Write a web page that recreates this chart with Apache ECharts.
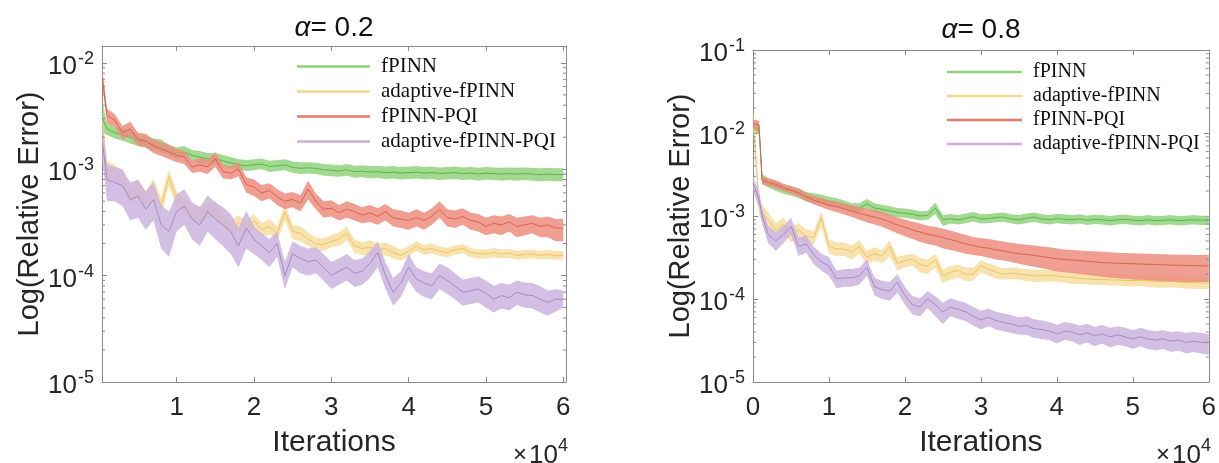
<!DOCTYPE html>
<html><head><meta charset="utf-8">
<script src="https://cdn.jsdelivr.net/npm/echarts@6/dist/echarts.min.js"></script>
<style>html,body{margin:0;padding:0;background:#fff}#c{width:1219px;height:463px}</style>
</head><body><div id="c"></div><script>
// values are in units of 1e-4 (relative error)
const UNIT = 1e-4;
const names = ['fPINN', 'adaptive-fPINN', 'fPINN-PQI', 'adaptive-fPINN-PQI'];
const xTickValsLeft = [10000, 20000, 30000, 40000, 50000, 60000];
const xTickValsRight = [0, 10000, 20000, 30000, 40000, 50000, 60000];
const minorMult = [2, 3, 4, 5, 6, 7, 8, 9];

// ---------- left panel (alpha = 0.2) ----------
const xLeft = [400,1000,2000,3000,4000,5000,6000,7000,8000,9000,
  10000,11000,12000,13000,14000,15000,16000,17000,18000,19000,
  20000,21000,22000,23000,24000,25000,26000,27000,28000,29000,
  30000,31000,32000,33000,34000,35000,36000,37000,38000,39000,
  40000,41000,42000,43000,44000,45000,46000,47000,48000,49000,
  50000,51000,52000,53000,54000,55000,56000,57000,58000,59000,
  60000];
const gL_mean = [30,24,22,21,20,18.5,18,17,16.5,15, 14,14.5,13.5,13,12.5,12.5,12,11.5,11,10.8,
  11,11.2,10.6,10.8,11,10.4,10.2,10.3,10.2,9.9, 9.8,9.6,9.9,9.5,9.6,9.4,9.5,9.3,9.4,9.2,
  9.3,9.4,9.2,9.3,9.1,9.2,9.3,9.1,9.2,9.0, 9.2,9.1,9.0,9.1,9.0,9.1,9.0,8.9,9.0,8.9, 8.9];
const gL_lo = [22,21,19.5,18.5,17.5,16.5,16,15,14.5,13.5, 12.5,13,12,11.5,11,11,10.6,10.2,9.8,9.6,
  9.8,10,9.4,9.6,9.8,9.2,9,9.1,9,8.7, 8.6,8.5,8.7,8.3,8.4,8.2,8.3,8.1,8.2,8.0,
  8.1,8.2,8.0,8.1,7.9,8.0,8.1,7.9,8.0,7.8, 8.0,7.9,7.8,7.9,7.8,7.9,7.8,7.7,7.8,7.7, 7.7];
const gL_hi = [43,27,25,24,23,21,20.5,19.5,19,17, 16,16.5,15.2,14.8,14.2,14.2,13.6,13,12.4,12.2,
  12.4,12.6,12,12.2,12.4,11.8,11.6,11.6,11.5,11.2, 11.1,10.9,11.2,10.8,10.9,10.7,10.8,10.6,10.7,10.5,
  10.6,10.7,10.5,10.6,10.4,10.5,10.6,10.4,10.5,10.3, 10.5,10.4,10.3,10.4,10.3,10.4,10.3,10.2,10.3,10.2, 10.2];
const yL_mean = [25,10,9.3,8,5.5,6.5,5.2,6.8,4.5,8.5, 5.2,4.5,4.0,3.8,4.1,4.2,3.3,2.8,3.1,2.8,
  3.3,2.7,2.9,2.5,4.0,2.6,2.5,2.2,2.0,1.95, 2.1,2.2,2.5,1.9,1.8,1.85,1.75,1.8,1.65,1.55,
  1.7,1.9,1.75,1.8,1.7,1.65,1.75,1.8,1.65,1.6, 1.6,1.65,1.6,1.62,1.55,1.58,1.6,1.55,1.58,1.55, 1.55];
const yL_lo = [18,8.5,7.8,6.8,4.6,5.4,4.4,5.6,3.8,7, 4.4,3.8,3.4,3.2,3.5,3.5,2.8,2.4,2.6,2.4,
  2.8,2.3,2.45,2.1,3.3,2.2,2.1,1.9,1.7,1.7, 1.85,1.9,2.15,1.65,1.55,1.6,1.5,1.55,1.45,1.38,
  1.52,1.7,1.57,1.62,1.53,1.49,1.58,1.62,1.49,1.45, 1.45,1.49,1.45,1.47,1.41,1.44,1.46,1.41,1.44,1.41, 1.41];
const yL_hi = [32,11.8,11,9.5,6.6,7.8,6.2,8.2,5.4,10, 6.2,5.3,4.7,4.5,4.8,5.0,3.9,3.3,3.7,3.3,
  3.8,3.1,3.4,2.9,4.7,3.0,2.9,2.55,2.3,2.25, 2.4,2.55,2.9,2.2,2.05,2.15,2.0,2.05,1.9,1.75,
  1.9,2.1,1.95,2.0,1.88,1.82,1.93,1.98,1.82,1.76, 1.76,1.82,1.76,1.78,1.7,1.74,1.76,1.7,1.74,1.7, 1.7];
const rL_mean = [72,32,29,22,24,19,18.5,16.5,15.5,14.5, 13.5,13,10.5,11,10.5,12.5,9.5,9.2,10,7.2,
  6.8,6,6.3,5.5,5,5.2,4.8,6.5,5,4.2, 4.3,3.9,4.2,4.0,3.7,3.9,3.6,4.0,3.5,3.4,
  3.3,3.5,3.3,3.6,4.2,3.5,3.4,3.6,3.3,3.2, 2.9,3.1,3.0,3.2,2.9,3.0,3.1,2.9,3.0,2.8, 2.8];
const rL_lo = [60,27,25,19,20.5,16.5,16,14.2,13.3,12.5, 11.6,11.2,9.2,9.5,9,10.5,8.2,8,8.6,6,
  5.6,5,5.3,4.6,4.2,4.4,4,5.2,4.2,3.5, 3.6,3.3,3.5,3.3,3.1,3.2,3.0,3.3,2.9,2.8,
  2.7,2.9,2.7,3.0,3.5,2.9,2.8,3.0,2.7,2.6, 2.4,2.5,2.4,2.6,2.3,2.4,2.5,2.3,2.3,2.1, 2.1];
const rL_hi = [85,37,33,25.5,28,22,21.5,19,18,17, 15.5,15,12,12.8,12.2,14.5,11,10.6,11.6,8.4,
  8,7.1,7.4,6.5,5.9,6.1,5.7,7.8,5.9,5, 5.1,4.6,5,4.7,4.4,4.6,4.3,4.7,4.2,4.1,
  3.9,4.2,3.9,4.3,5,4.2,4.1,4.3,3.9,3.8, 3.5,3.7,3.6,3.8,3.5,3.6,3.7,3.5,3.6,3.4, 3.4];
const pL_mean = [18,8,7.5,7,5.2,5.6,4.2,5.2,3,2.6, 4,4.5,3.4,3,4,3.4,3,2.6,1.9,2.8,
  2.2,1.9,1.65,2.0,1.0,1.6,1.45,1.35,1.4,1.2, 1.0,1.1,1.2,1.05,1.1,1.3,1.65,1.0,0.7,0.85,
  1.2,0.93,0.85,0.8,1.0,0.9,0.8,0.7,0.72,0.75, 0.68,0.6,0.65,0.62,0.7,0.66,0.65,0.6,0.56,0.6, 0.6];
const pL_lo = [12,5,5,4.5,3.3,3.5,2.7,3.3,1.8,1.5, 2.6,3.0,2.2,1.9,2.6,2.2,1.9,1.6,1.2,1.8,
  1.6,1.4,1.2,1.5,0.75,1.2,1.05,1.0,1.05,0.9, 0.75,0.82,0.9,0.78,0.82,0.95,1.2,0.75,0.52,0.63,
  0.9,0.7,0.63,0.6,0.75,0.67,0.6,0.52,0.54,0.56, 0.5,0.45,0.49,0.47,0.53,0.5,0.49,0.45,0.42,0.46, 0.5];
const pL_hi = [26,11,10.5,10,7.5,8,6.2,7.5,4.6,4, 5.8,6.5,4.9,4.4,5.7,4.9,4.4,3.8,2.8,4.1,
  2.9,2.5,2.2,2.6,1.35,2.1,1.9,1.8,1.85,1.6, 1.35,1.45,1.6,1.4,1.45,1.7,2.1,1.35,0.95,1.1,
  1.6,1.2,1.1,1.05,1.3,1.2,1.05,0.92,0.95,0.98, 0.9,0.8,0.85,0.82,0.9,0.86,0.85,0.8,0.72,0.75, 0.72];

// ---------- right panel (alpha = 0.8) ----------
const xRight = [0,800,1200,2000,3000,4000,5000,6000,7000,8000,
  9000,10000,11000,12000,13000,14000,15000,16000,17000,18000,
  19000,20000,21000,22000,23000,24000,25000,26000,27000,28000,
  29000,30000,31000,32000,33000,34000,35000,36000,37000,38000,
  39000,40000,41000,42000,43000,44000,45000,46000,47000,48000,
  49000,50000,51000,52000,53000,54000,55000,56000,57000,58000,
  59000,60000];
const gR_mean = [120,110,28,25,23,21,20,19,17,16.5, 16,15,14.5,13.5,12.5,12.5,14,12.5,12,11.5,
  11,10.8,10.5,10,10.2,12.5,9,9.3,9.0,9.4, 9.8,9.2,9.3,9.6,9.7,9.2,9.0,9.4,9.7,9.2,
  9.0,9.3,9.1,9.0,9.2,8.9,9.1,9.0,8.8,9.0, 9.1,8.9,8.8,9.0,8.8,8.9,9.0,8.8,8.9,9.0, 8.9,8.9];
const gR_lo = [105,95,24.5,22,20,18.5,17.5,16.5,15,14.5, 14,13.2,12.7,11.8,11,11,12.2,11,10.5,10.1,
  9.6,9.5,9.2,8.8,9,10.5,7.6,8.1,7.9,8.2, 8.6,8.1,8.2,8.4,8.5,8.1,7.9,8.2,8.5,8.1,
  7.9,8.2,8.0,7.9,8.1,7.8,8.0,7.9,7.7,7.9, 8.0,7.8,7.7,7.9,7.7,7.8,7.9,7.7,7.8,7.9, 7.8,7.8];
const gR_hi = [135,125,32,28.5,26,24,22.8,21.6,19.4,18.8, 18.2,17,16.5,15.4,14.2,14.2,16,14.2,13.7,13.1,
  12.5,12.3,12,11.4,11.6,14.5,10.3,10.6,10.3,10.7, 11.2,10.5,10.6,10.9,11,10.5,10.3,10.7,11,10.5,
  10.3,10.6,10.4,10.3,10.5,10.1,10.4,10.3,10.0,10.3, 10.4,10.1,10.0,10.3,10.0,10.1,10.3,10.0,10.1,10.3, 10.1,10.1];
const yR_mean = [160,14,11,9,6.8,8,6,6.8,5.7,5.5, 9.5,4.3,4.0,4.0,3.7,4.3,3.2,3.5,3.3,4.3,
  2.7,2.9,3.0,2.6,2.5,3.0,1.9,2.1,2.2,2.0, 2.0,2.5,2.3,2.1,2.0,2.05,2.0,1.95,1.9,1.9,
  1.92,1.9,1.85,1.8,1.78,1.75,1.72,1.72,1.7,1.7, 1.68,1.66,1.68,1.65,1.63,1.62,1.64,1.6,1.58,1.57, 1.56,1.55];
const yR_lo = [120,10,8.5,7.2,5.5,6.5,4.8,5.5,4.6,4.5, 7.5,3.5,3.3,3.3,3.0,3.5,2.6,2.9,2.7,3.3,
  2.2,2.4,2.5,2.1,2.0,2.4,1.55,1.7,1.8,1.65, 1.65,2.1,1.9,1.75,1.7,1.75,1.7,1.65,1.6,1.6,
  1.63,1.62,1.58,1.53,1.52,1.5,1.47,1.47,1.45,1.45, 1.43,1.41,1.43,1.4,1.38,1.37,1.39,1.36,1.34,1.33, 1.32,1.31];
const yR_hi = [190,18,13.5,11,8.2,9.6,7.2,8.2,6.9,6.6, 11.5,5.2,4.8,4.8,4.4,5.1,3.8,4.2,3.9,5.1,
  3.2,3.4,3.5,3.1,3.0,3.5,2.3,2.5,2.6,2.4, 2.4,2.9,2.7,2.5,2.35,2.4,2.35,2.3,2.25,2.25,
  2.25,2.22,2.17,2.12,2.09,2.05,2.02,2.02,2.0,2.0, 1.97,1.95,1.97,1.94,1.92,1.9,1.93,1.88,1.86,1.85, 1.84,1.82];
const rR_mean = [130,125,27,25.5,24,22,20.5,19,17,15.5, 14.5,13.5,13,12.2,11.5,10.8,10.2,9.7,9.2,8.5,
  7.8,7.3,6.8,6.4,6.0,5.8,5.5,5.2,4.9,4.6, 4.4,4.2,4.1,3.9,3.8,3.65,3.5,3.45,3.35,3.25,
  3.15,3.05,3.0,2.95,2.9,2.85,2.8,2.75,2.72,2.7, 2.68,2.66,2.64,2.62,2.6,2.58,2.56,2.55,2.54,2.53, 2.52,2.5];
const rR_lo = [110,105,24,23,21.5,20,18.5,17,15.2,13.8, 12.8,11.8,11.2,10.4,9.7,9.0,8.4,7.9,7.4,6.8,
  6.2,5.7,5.3,4.9,4.6,4.4,4.1,3.9,3.7,3.5, 3.4,3.3,3.15,3.0,2.9,2.8,2.65,2.55,2.45,2.35,
  2.25,2.15,2.1,2.05,2.0,1.95,1.9,1.85,1.8,1.78, 1.75,1.72,1.7,1.68,1.66,1.64,1.62,1.61,1.6,1.6, 1.6,1.6];
const rR_hi = [145,140,30,28.5,27,24.5,23,21.5,19,17.5, 16.5,15.5,15,14.2,13.5,12.8,12.2,11.7,11.2,10.4,
  9.6,9.1,8.5,8.1,7.6,7.4,7.0,6.7,6.3,5.9, 5.6,5.4,5.3,5.1,4.9,4.75,4.6,4.5,4.4,4.3,
  4.2,4.05,3.95,3.9,3.85,3.8,3.75,3.7,3.65,3.6, 3.58,3.55,3.53,3.5,3.48,3.46,3.44,3.42,3.41,3.4, 3.4,3.4];
const pR_mean = [25,16,10,6,5,6,7.5,4.3,4.6,3.4, 2.8,2.5,1.75,1.8,1.8,1.9,2.4,1.4,1.3,1.25,
  1.6,1.1,0.85,0.8,1.0,0.85,0.7,0.8,0.75,0.7, 0.62,0.56,0.6,0.55,0.52,0.5,0.47,0.48,0.44,0.43,
  0.41,0.38,0.41,0.4,0.37,0.39,0.36,0.38,0.35,0.37, 0.35,0.33,0.35,0.33,0.32,0.33,0.31,0.32,0.3,0.31, 0.3,0.3];
const pR_lo = [20,12.5,8,4.7,3.8,4.7,6,3.3,3.6,2.6, 2.2,1.9,1.35,1.4,1.4,1.5,1.9,1.1,1.0,0.95,
  1.2,0.85,0.65,0.62,0.78,0.62,0.5,0.62,0.58,0.54, 0.48,0.43,0.47,0.43,0.41,0.39,0.37,0.37,0.34,0.33,
  0.32,0.29,0.32,0.31,0.28,0.3,0.27,0.29,0.26,0.28, 0.27,0.25,0.27,0.25,0.24,0.25,0.23,0.24,0.22,0.23, 0.22,0.21];
const pR_hi = [30,20,12.5,7.6,6.4,7.6,9.5,5.5,5.8,4.3, 3.5,3.2,2.2,2.3,2.3,2.4,3.0,1.8,1.65,1.6,
  2.0,1.4,1.08,1.02,1.25,1.08,0.9,1.02,0.95,0.9, 0.8,0.72,0.77,0.7,0.67,0.64,0.6,0.62,0.57,0.55,
  0.53,0.49,0.53,0.51,0.48,0.5,0.46,0.49,0.45,0.47, 0.45,0.42,0.45,0.42,0.41,0.42,0.4,0.41,0.39,0.4, 0.39,0.38];

// ---------- styling ----------
const COLS = [
  {band: '#93d47f', line: '#5cb34b', legend: '#8fd27c'},
  {band: '#f7dd9f', line: '#ecc46a', legend: '#f4d58f'},
  {band: '#ec8d7e', line: '#d8624f', legend: '#e47b6a'},
  {band: '#cdb4df', line: '#a58ac3', legend: '#c8aedd'}
];
const AXIS_COL = '#8a8a8a';
const TXT_COL = '#262626';
const FONT = '"Liberation Sans", Arial, sans-serif';
const SERIF = '"Liberation Serif", "Times New Roman", serif';

const panels = [
  {x: xLeft, xmin: 350, xmax: 60350, ymin: 1e-5, ymax: 0.0144, ticks: xTickValsLeft,
   grid: {left: 102, top: 46, width: 464, height: 339},
   sets: [[gL_mean, gL_lo, gL_hi], [yL_mean, yL_lo, yL_hi], [rL_mean, rL_lo, rL_hi], [pL_mean, pL_lo, pL_hi]],
   title: '0.2', legendPos: {left: 297, top: 56}, legendItemWidth: 73, legendFont: 21},
  {x: xRight, xmin: 0, xmax: 60000, ymin: 1e-5, ymax: 0.1, ticks: xTickValsRight,
   grid: {left: 753, top: 50, width: 456, height: 333},
   sets: [[gR_mean, gR_lo, gR_hi], [yR_mean, yR_lo, yR_hi], [rR_mean, rR_lo, rR_hi], [pR_mean, pR_lo, pR_hi]],
   title: '0.8', legendPos: {left: 947, top: 62}, legendItemWidth: 75, legendFont: 20}
];

const yLabelFmt = v => {
  const e = Math.log10(v);
  const r = Math.round(e);
  if (Math.abs(e - r) > 1e-6) return '';
  return '{b|10}{s|' + r + '}';
};
const yRich = {
  b: {fontSize: 26, fontFamily: FONT, color: TXT_COL, lineHeight: 26, padding: [8, 0, 0, 0]},
  s: {fontSize: 18, fontFamily: FONT, color: TXT_COL, lineHeight: 24, verticalAlign: 'top', padding: [0, 0, 0, 1]}
};

// band polygon through the axis scales: upper edge forward, lower edge backward
const bandRender = (params, api) => {
  if (params.dataIndexInside !== 0) return null;
  const n = params.dataInsideLength;
  const up = [], dn = [];
  for (let i = 0; i < n; i++) {
    const x = api.value(0, i);
    up.push(api.coord([x, api.value(2, i)]));
    dn.push(api.coord([x, api.value(1, i)]));
  }
  return {type: 'polygon', shape: {points: up.concat(dn.reverse())},
    style: {fill: api.visual('color'), opacity: 0.85}, silent: true};
};

const grids = [], xAxes = [], yAxes = [], series = [], titles = [], legends = [], graphics = [];
panels.forEach((P, pi) => {
  grids.push(Object.assign({containLabel: false}, P.grid));
  const base = {gridIndex: pi, type: 'value', min: P.xmin, max: P.xmax, splitLine: {show: false},
    axisLine: {show: true, onZero: false, lineStyle: {color: AXIS_COL, width: 1}}};
  xAxes.push(Object.assign({}, base, {position: 'bottom',
    axisTick: {show: true, inside: true, length: 5, lineStyle: {color: AXIS_COL}, customValues: P.ticks},
    axisLabel: {customValues: P.ticks, formatter: v => String(v / 10000), fontSize: 26, fontFamily: FONT, color: TXT_COL, margin: 13},
    name: 'Iterations', nameLocation: 'middle', nameGap: 46,
    nameTextStyle: {fontSize: 30, fontFamily: FONT, color: TXT_COL}}));
  xAxes.push(Object.assign({}, base, {position: 'top',
    axisTick: {show: true, inside: true, length: 5, lineStyle: {color: AXIS_COL}, customValues: P.ticks},
    axisLabel: {show: false}}));
  const ybase = {gridIndex: pi, type: 'log', logBase: 10, min: P.ymin, max: P.ymax, splitLine: {show: false},
    axisLine: {show: true, onZero: false, lineStyle: {color: AXIS_COL, width: 1}},
    axisTick: {show: true, inside: true, length: 5, lineStyle: {color: AXIS_COL}}};
  yAxes.push(Object.assign({}, ybase, {position: 'left',
    axisLabel: {formatter: yLabelFmt, rich: yRich, margin: 8},
    name: 'Log(Relative Error)', nameLocation: 'middle', nameGap: 58,
    nameTextStyle: {fontSize: 29, fontFamily: FONT, color: TXT_COL}}));
  yAxes.push(Object.assign({}, ybase, {position: 'right', axisLabel: {show: false}}));

  const xi = pi * 2, yi = pi * 2;
  P.sets.forEach((S, k) => {
    const [m, lo, hi] = S;
    const col = COLS[k];
    series.push({type: 'custom', name: names[k] + ' range', xAxisIndex: xi, yAxisIndex: yi,
      data: P.x.map((x, i) => [x, lo[i] * UNIT, hi[i] * UNIT]),
      encode: {x: 0, y: [1, 2]}, itemStyle: {color: col.band}, renderItem: bandRender,
      silent: true, clip: true, z: 2 + k});
    series.push({type: 'line', name: names[k], xAxisIndex: xi, yAxisIndex: yi,
      data: P.x.map((x, i) => [x, m[i] * UNIT]), symbol: 'none',
      lineStyle: {color: col.line, width: 1}, itemStyle: {color: col.legend}, emphasis: {disabled: true}, z: 2 + k});
  });

  // minor log ticks on left and right frame edges
  const minor = [];
  for (let e = -5; e <= -1; e++) minorMult.forEach(mm => { const v = mm * Math.pow(10, e); if (v > P.ymin && v < P.ymax) minor.push([P.xmin, v]); });
  series.push({type: 'custom', name: 'minorTicks' + pi, xAxisIndex: xi, yAxisIndex: yi, silent: true, clip: false, z: 10,
    data: minor,
    renderItem: (params, api) => {
      const a = api.coord([P.xmin, api.value(1)]);
      const b = api.coord([P.xmax, api.value(1)]);
      return {type: 'group', children: [
        {type: 'line', shape: {x1: a[0], y1: a[1], x2: a[0] + 3, y2: a[1]}, style: {stroke: AXIS_COL, lineWidth: 1}},
        {type: 'line', shape: {x1: b[0], y1: b[1], x2: b[0] - 3, y2: b[1]}, style: {stroke: AXIS_COL, lineWidth: 1}}
      ]};
    }});

  const cx = P.grid.left + P.grid.width / 2;
  titles.push({text: '{a|α}= ' + P.title, left: cx, top: pi === 0 ? 14 : 16, textAlign: 'center', padding: 0,
    textStyle: {fontSize: 28, fontWeight: 'normal', fontFamily: FONT, color: '#111',
      rich: {a: {fontSize: 28, fontStyle: 'italic', fontFamily: FONT, color: '#111'}}}});
  legends.push({data: names, orient: 'vertical', left: P.legendPos.left, top: P.legendPos.top, z: 30,
    icon: 'rect', itemWidth: P.legendItemWidth, itemHeight: 2.5, itemGap: 4, selectedMode: false, padding: 0,
    textStyle: {fontFamily: SERIF, fontSize: P.legendFont, color: '#111', lineHeight: 20, padding: [0, 0, 0, 6]}});
  const rx = P.grid.left + P.grid.width + 2;
  graphics.push({type: 'text', x: rx, y: 452, silent: true,
    style: {text: '{m|×}{b|10}{s|4}', align: 'right', verticalAlign: 'middle',
      rich: {m: {fontSize: 24, fontFamily: FONT, fill: TXT_COL, padding: [6, 2, 0, 0]},
             b: {fontSize: 26, fontFamily: FONT, fill: TXT_COL, lineHeight: 26, padding: [8, 0, 0, 0]},
             s: {fontSize: 18, fontFamily: FONT, fill: TXT_COL, lineHeight: 24, verticalAlign: 'top'}}}});
});

const chart = echarts.init(document.getElementById('c'), null, {renderer: 'canvas'});
chart.setOption({
  animation: false,
  backgroundColor: '#fff',
  title: titles,
  legend: legends,
  grid: grids,
  xAxis: xAxes,
  yAxis: yAxes,
  series: series,
  graphic: graphics
});
</script></body></html>
